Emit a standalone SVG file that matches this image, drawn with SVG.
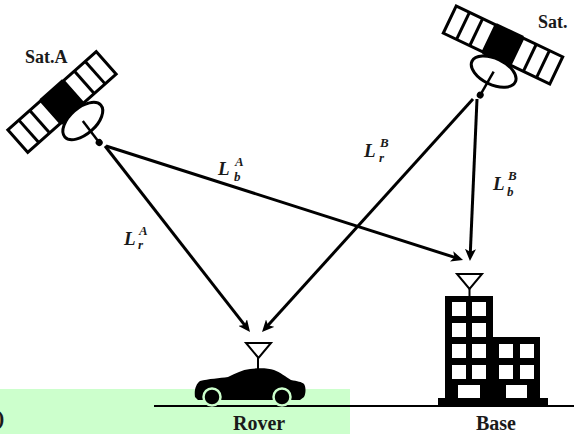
<svg xmlns="http://www.w3.org/2000/svg" width="574" height="434" viewBox="0 0 574 434">
  <style>
    .name { font-family: "Liberation Serif", "DejaVu Serif", serif; font-weight: bold; fill: #1a1a1a; }
    .math { font-family: "Liberation Serif", "DejaVu Serif", serif; font-weight: bold; font-style: italic; fill: #1a1a1a; }
    .big { font-size: 19px; }
    .small { font-size: 13px; }
    .link { stroke: #000; stroke-width: 3; fill: none; marker-end: url(#head); }
    .panel { fill: #fff; stroke: #000; stroke-width: 3; }
    .ant { fill: #fff; stroke: #000; stroke-width: 2; }
  </style>
  <defs>
    <marker id="head" markerUnits="userSpaceOnUse" markerWidth="13" markerHeight="11" refX="4" refY="5.5" orient="auto">
      <path d="M0,0 L12,5.5 L0,11 L3,5.5 Z" fill="#000"/>
    </marker>
    <!-- satellite drawn along its local x axis; dish hangs below -->
    <g id="satellite">
      <rect class="panel" x="-59" y="-15" width="44" height="30"/>
      <line x1="-44.3" y1="-15" x2="-44.3" y2="15" stroke="#000" stroke-width="3"/>
      <line x1="-29.7" y1="-15" x2="-29.7" y2="15" stroke="#000" stroke-width="3"/>
      <rect class="panel" x="15" y="-15" width="44" height="30"/>
      <line x1="29.7" y1="-15" x2="29.7" y2="15" stroke="#000" stroke-width="3"/>
      <line x1="44.3" y1="-15" x2="44.3" y2="15" stroke="#000" stroke-width="3"/>
      <rect x="-15" y="-17" width="30" height="34" fill="#000"/>
      <ellipse cx="3" cy="28" rx="24" ry="13" fill="#fff" stroke="#000" stroke-width="3"/>
      <line x1="3" y1="28" x2="1" y2="55" stroke="#000" stroke-width="2.5"/>
      <circle cx="1" cy="55" r="3.5" fill="#000"/>
    </g>
  </defs>

  <rect x="0" y="0" width="574" height="434" fill="#fff"/>

  <!-- ground strip and ground line -->
  <rect x="0" y="389" width="350" height="45" fill="#ccffcc"/>
  <text class="name" x="-3" y="425" font-size="22">)</text>
  <line x1="154" y1="406" x2="574" y2="406" stroke="#000" stroke-width="2"/>

  <g id="sat-a">
    <use href="#satellite" transform="translate(62,102) rotate(-41.5)"/>
    <text class="name" x="25" y="63" font-size="18">Sat.A</text>
  </g>

  <g id="sat-b">
    <use href="#satellite" transform="translate(503,45) rotate(25.5)"/>
    <text class="name" x="538" y="28" font-size="18">Sat.</text>
  </g>

  <g id="rover">
    <path d="M195,397 C194,390 196,384 200,381 C208,379 220,378 228,377 C236,373 242,370 250,369 C258,368 268,368 274,370 C280,372 286,377 291,380 C297,381 302,382 304,384 C306,387 306,393 304,397 L300,400 L198,400 Z" fill="#000"/>
    <circle cx="212" cy="397" r="8.5" fill="#000" stroke="#ccffcc" stroke-width="2.5"/>
    <circle cx="282" cy="397" r="8.5" fill="#000" stroke="#ccffcc" stroke-width="2.5"/>
    <line x1="258" y1="357" x2="258" y2="369" stroke="#000" stroke-width="2"/>
    <path class="ant" d="M246,343 L271,343 L258.5,358 Z"/>
    <text class="name" x="233" y="430" font-size="20">Rover</text>
  </g>

  <g id="base">
    <line x1="469.5" y1="287" x2="469.5" y2="297" stroke="#000" stroke-width="2"/>
    <path class="ant" d="M457,274 L482,274 L469.5,289 Z"/>
    <rect x="445" y="296" width="48" height="104" fill="#000"/>
    <rect x="492" y="337" width="48" height="63" fill="#000"/>
    <rect x="438" y="398" width="110" height="8" fill="#000"/>
    <g fill="#fff">
      <rect x="452" y="302" width="14" height="14"/>
      <rect x="472" y="302" width="14" height="14"/>
      <rect x="452" y="323" width="14" height="14"/>
      <rect x="472" y="323" width="14" height="14"/>
      <rect x="452" y="344" width="14" height="14"/>
      <rect x="472" y="344" width="14" height="14"/>
      <rect x="452" y="365" width="14" height="14"/>
      <rect x="472" y="365" width="14" height="14"/>
      <rect x="499" y="344" width="14" height="14"/>
      <rect x="520" y="344" width="14" height="14"/>
      <rect x="499" y="365" width="14" height="14"/>
      <rect x="520" y="365" width="14" height="14"/>
      <rect x="458" y="385" width="22" height="13"/>
      <rect x="506" y="385" width="21" height="13"/>
    </g>
    <text class="name" x="476" y="430" font-size="20">Base</text>
  </g>

  <g id="connectors">
    <line class="link" x1="105" y1="146" x2="245.1" y2="325.7"/>
    <line class="link" x1="106" y1="146" x2="455.4" y2="257.6"/>
    <line class="link" x1="473" y1="99" x2="267.4" y2="326.1"/>
    <line class="link" x1="477" y1="99" x2="470.3" y2="253"/>
  </g>

  <g id="labels">
    <text class="math big" x="218" y="175">L</text>
    <text class="math small" x="235" y="166">A</text>
    <text class="math small" x="234" y="181">b</text>

    <text class="math big" x="364" y="157">L</text>
    <text class="math small" x="380" y="147">B</text>
    <text class="math small" x="379" y="162">r</text>

    <text class="math big" x="124" y="245">L</text>
    <text class="math small" x="139" y="235">A</text>
    <text class="math small" x="138" y="249">r</text>

    <text class="math big" x="493" y="190">L</text>
    <text class="math small" x="508" y="180">B</text>
    <text class="math small" x="507" y="196">b</text>
  </g>
</svg>
